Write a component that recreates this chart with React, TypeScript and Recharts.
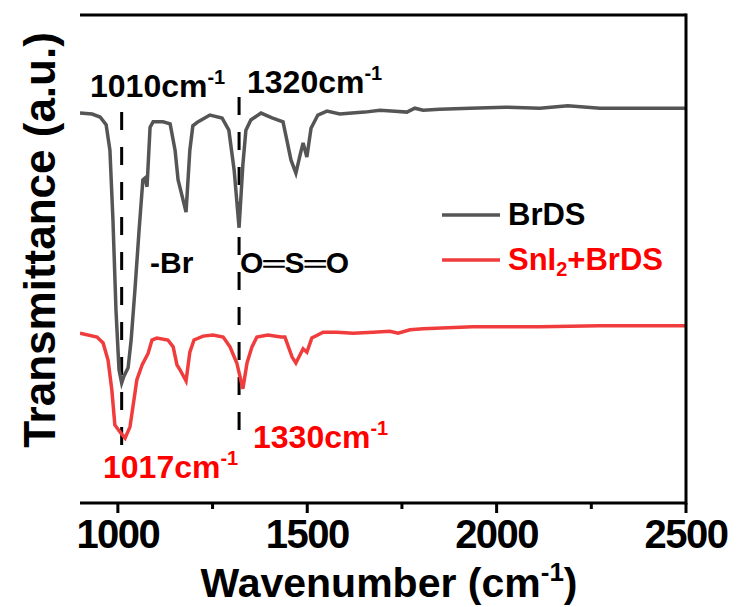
import React from 'react';
import { LineChart, Line, XAxis, YAxis, ReferenceLine, ReferenceDot, Label } from 'recharts';

// FTIR spectra, wavenumber (cm-1) vs. offset transmittance (a.u.)
const brdsWavenumber = [
  900, 932, 953, 969, 979, 987, 995, 1003, 1010, 1016, 1027, 1035, 1045, 1056, 1066, 1072, 1077, 1085, 1093,
  1119, 1138, 1151, 1159, 1169, 1180, 1190, 1198, 1211, 1243, 1275, 1293, 1307, 1320, 1330, 1338, 1351, 1378,
  1407, 1436, 1446, 1457, 1470, 1481, 1489, 1499, 1510, 1528, 1552, 1586, 1618, 1652, 1692, 1732, 1763, 1784,
  1806, 1850, 1930, 2022, 2114, 2188, 2273, 2378, 2500,
];
const brdsSignal = [
  79.9, 79.7, 79.1, 77.5, 72.3, 58.0, 39.5, 27.3, 24.6, 26.0, 27.7, 33.4, 43.6, 55.9, 66.2, 66.6, 64.8, 77.0, 78.1,
  78.1, 77.7, 72.3, 66.2, 63.1, 59.6, 72.3, 77.3, 78.1, 79.5, 78.9, 76.4, 68.2, 56.4, 69.3, 76.4, 78.5, 79.9,
  78.9, 78.1, 74.4, 70.3, 67.6, 71.3, 73.8, 70.9, 76.8, 79.5, 80.3, 79.7, 79.9, 80.1, 80.5, 80.3, 80.1, 80.9,
  80.5, 80.7, 80.9, 81.1, 80.9, 81.4, 80.9, 80.9, 80.9,
];

const snBrdsWavenumber = [
  900, 945, 961, 974, 984, 992, 1006, 1019, 1032, 1045, 1050, 1064, 1080, 1090, 1103, 1132, 1146, 1156, 1164,
  1180, 1190, 1201, 1225, 1251, 1278, 1296, 1314, 1330, 1341, 1354, 1367, 1396, 1431, 1441, 1460, 1470, 1489,
  1499, 1512, 1542, 1578, 1621, 1674, 1718, 1740, 1771, 1806, 1937, 2027, 2114, 2273, 2500,
];
const snBrdsSignal = [
  34.8, 34.0, 32.8, 29.3, 23.2, 16.0, 14.5, 13.3, 15.6, 22.5, 25.2, 28.3, 30.7, 33.4, 33.8, 33.4, 32.0, 28.3, 27.3,
  25.0, 30.9, 33.4, 34.2, 34.4, 34.0, 32.0, 28.7, 23.4, 28.7, 32.0, 34.0, 34.4, 34.0, 34.0, 29.9, 28.7, 31.6,
  30.9, 33.8, 35.0, 35.0, 34.8, 35.0, 35.2, 34.8, 35.5, 35.7, 36.1, 36.1, 36.1, 36.3, 36.3,
];

const majorTicks = [1000, 1500, 2000, 2500];
const minorTicks = [1250, 1750, 2250];
const xDomain = [900, 2500];

// marker lines: [wavenumber, top, bottom]
const peakMarkers = [
  [1010, 80.1, 10.9],
  [1320, 83.2, 14.3],
];

const brdsData = brdsWavenumber.map((x, i) => ({ x, y: brdsSignal[i] }));
const snData = snBrdsWavenumber.map((x, i) => ({ x, y: snBrdsSignal[i] }));

const W = 737;
const H = 607;
const MARGIN = { top: 15, right: 51, left: 80, bottom: 0 };
const X_AXIS_H = 104;
const PLOT_W = W - MARGIN.left - MARGIN.right;
const PLOT_H = H - MARGIN.top - X_AXIS_H;

const FONT = '"Liberation Sans", Arial, sans-serif';
const GRAY = '#555555';
const RED_LINE = '#f03c3c';
const RED_TEXT = '#ff0000';

const TickLabel = (props: any) => {
  const { x, y, payload } = props;
  return (
    <text x={x} y={y + 45} textAnchor="middle" fontFamily={FONT} fontWeight="bold" fontSize={40}
      letterSpacing={-1.5} fill="#000">
      {payload.value}
    </text>
  );
};

const Wn = ({ x, y, v, color }: { x: number; y: number; v: string; color: string }) => (
  <text x={x} y={y} fontFamily={FONT} fontWeight="bold" fontSize={32} fill={color}>
    {v}cm<tspan fontSize={20} dy={-13}>-1</tspan>
  </text>
);

// frame edge, outward ticks, peak notes, y title and legend, laid out from the plot's top-left corner
const Notes = (props: any) => {
  const { x: ox, y: oy } = props.viewBox;
  const sx = (v: number) => ox + ((v - xDomain[0]) * PLOT_W) / (xDomain[1] - xDomain[0]);
  const bottom = oy + PLOT_H;
  return (
    <g>
      <rect x={ox + PLOT_W - 1.5} y={oy - 1.5} width={3} height={PLOT_H + 3} fill="#000" />
      {majorTicks.map((t) => (
        <rect key={t} x={sx(t) - 1.5} y={bottom} width={3} height={10} fill="#000" />
      ))}
      {minorTicks.map((t) => (
        <rect key={t} x={sx(t) - 1.5} y={bottom} width={3} height={6} fill="#000" />
      ))}

      <text transform={`translate(${ox - 25},${oy + 225}) rotate(-90)`} textAnchor="middle" fontFamily={FONT}
        fontWeight="bold" fontSize={44} fill="#000">
        Transmittance (a.u.)
      </text>

      <Wn x={ox + 10} y={oy + 82} v="1010" color="#000" />
      <Wn x={ox + 167} y={oy + 78} v="1320" color="#000" />
      <Wn x={ox + 23} y={oy + 463} v="1017" color={RED_TEXT} />
      <Wn x={ox + 173} y={oy + 433} v="1330" color={RED_TEXT} />
      <text x={ox + 70} y={oy + 258} fontFamily={FONT} fontWeight="bold" fontSize={30} fill="#000">-Br</text>
      <text x={ox + 160} y={oy + 258} fontFamily={FONT} fontWeight="bold" fontSize={30} fill="#000">O═S═O</text>

      <line x1={ox + 362} x2={ox + 420} y1={oy + 200} y2={oy + 200} stroke={GRAY} strokeWidth={3.5} />
      <text x={ox + 428} y={oy + 210} fontFamily={FONT} fontWeight="bold" fontSize={31} fill="#000">BrDS</text>
      <line x1={ox + 362} x2={ox + 420} y1={oy + 245} y2={oy + 245} stroke={RED_LINE} strokeWidth={3.5} />
      <text x={ox + 428} y={oy + 255} fontFamily={FONT} fontWeight="bold" fontSize={31} fill={RED_TEXT}>
        SnI<tspan fontSize={20} dy={6}>2</tspan><tspan dy={-6}>+BrDS</tspan>
      </text>
    </g>
  );
};

const XTitle = (props: any) => {
  const { x, y, width } = props.viewBox;
  return (
    <text x={x + width / 2 + 6} y={y + 94} textAnchor="middle" fontFamily={FONT} fontWeight="bold" fontSize={41}
      fill="#000">
      Wavenumber (cm<tspan fontSize={26} dy={-16}>-1</tspan><tspan dy={16}>)</tspan>
    </text>
  );
};

export default function App() {
  return (
    <div style={{ position: 'absolute', left: 0, top: 0, width: W, height: H, background: '#fff' }}>
      <LineChart width={W} height={H} margin={MARGIN}>
        <XAxis dataKey="x" type="number" domain={xDomain} ticks={majorTicks} allowDataOverflow
          axisLine={{ stroke: '#000', strokeWidth: 3 }} tickLine={false} tickSize={0} tickMargin={0}
          tick={<TickLabel />} height={X_AXIS_H} interval={0}>
          <Label content={XTitle} />
        </XAxis>
        <YAxis type="number" domain={[0, 100]} width={0} tick={false} tickLine={false}
          axisLine={{ stroke: '#000', strokeWidth: 3 }} />
        <ReferenceLine y={100} stroke="#000" strokeWidth={3} ifOverflow="visible" />
        {peakMarkers.map(([wn, top, bottom]) => (
          <ReferenceLine key={wn} segment={[{ x: wn, y: top }, { x: wn, y: bottom }]} stroke="#000"
            strokeWidth={3} strokeDasharray="18 17" ifOverflow="visible" />
        ))}
        <Line data={brdsData} dataKey="y" type="linear" stroke={GRAY} strokeWidth={3.5} dot={false}
          isAnimationActive={false} />
        <Line data={snData} dataKey="y" type="linear" stroke={RED_LINE} strokeWidth={3.5} dot={false}
          isAnimationActive={false} />
        <ReferenceDot x={900} y={100} r={0} fill="none" stroke="none" ifOverflow="visible" label={Notes} />
      </LineChart>
    </div>
  );
}
